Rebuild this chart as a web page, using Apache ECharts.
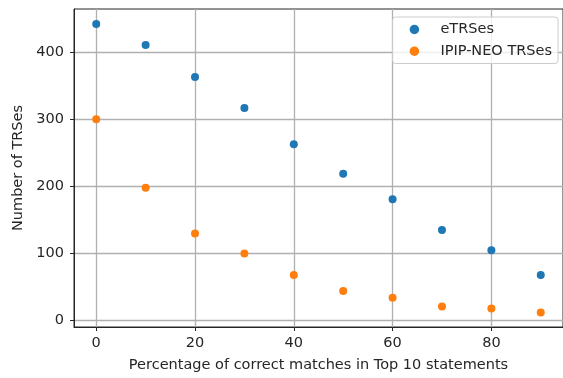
<!DOCTYPE html>
<html>
<head>
<meta charset="utf-8">
<script src="https://cdn.jsdelivr.net/npm/echarts@6/dist/echarts.min.js"></script>
<style>
  html, body { margin: 0; padding: 0; background: #fff; }
  #chart { width: 563px; height: 378px; }
</style>
</head>
<body>
<div id="chart"></div>
<script>
// Percentage of correct matches among the top 10 statements
const percentages = [0, 10, 20, 30, 40, 50, 60, 70, 80, 90];
// Number of trait-rating statements for each set
const eTRSes = [442, 411, 363, 317, 263, 219, 181, 135, 105, 68];
const ipipNeoTRSes = [300, 198, 130, 100, 68, 44, 34, 21, 18, 12];
// Tick positions
const xTicks = [0, 20, 40, 60, 80];
const yTicks = [0, 100, 200, 300, 400];

const FONT = 'DejaVu Sans';
const FS = 14.5;
const chart = echarts.init(document.getElementById('chart'), null, { renderer: 'canvas' });

function pairs(xs, ys) {
  return xs.map((x, i) => [x, ys[i]]);
}

chart.setOption({
  animation: false,
  backgroundColor: '#ffffff',
  textStyle: { fontFamily: FONT },
  grid: {
    left: 74, top: 9, width: 491, bottom: 50,
    show: true, borderColor: '#262626', borderWidth: 1, backgroundColor: 'transparent'
  },
  legend: {
    right: 5, top: 17,
    orient: 'vertical',
    icon: 'circle',
    itemWidth: 42, itemHeight: 9.5,
    itemGap: 5.7,
    padding: [4.5, 6, 4.3, 17],
    backgroundColor: 'rgba(255,255,255,0.8)',
    borderColor: '#cccccc', borderWidth: 1, borderRadius: 3,
    textStyle: { fontFamily: FONT, fontSize: FS, color: '#262626', lineHeight: 16 },
    data: ['eTRSes', 'IPIP-NEO TRSes']
  },
  xAxis: {
    type: 'value',
    min: -4.5, max: 94.5,
    name: 'Percentage of correct matches in Top 10 statements',
    nameLocation: 'middle', nameGap: 31,
    nameTextStyle: { fontFamily: FONT, fontSize: FS, color: '#262626' },
    axisLine: { show: true, onZero: false, lineStyle: { color: '#262626', width: 1 } },
    axisTick: { show: true, inside: false, length: 4, customValues: xTicks, lineStyle: { color: '#262626' } },
    axisLabel: { customValues: xTicks, margin: 9, fontFamily: FONT, fontSize: FS, color: '#262626' },
    splitLine: { show: true, lineStyle: { color: '#b0b0b0', width: 1.3 } }
  },
  yAxis: {
    type: 'value',
    min: -9.55, max: 464.5,
    name: 'Number of TRSes',
    nameLocation: 'middle', nameGap: 45,
    nameTextStyle: { fontFamily: FONT, fontSize: FS, color: '#262626' },
    axisLine: { show: true, onZero: false, lineStyle: { color: '#262626', width: 1 } },
    axisTick: { show: true, inside: false, length: 4, customValues: yTicks, lineStyle: { color: '#262626' } },
    axisLabel: { customValues: yTicks, margin: 10, fontFamily: FONT, fontSize: FS, color: '#262626' },
    splitLine: { show: true, lineStyle: { color: '#b0b0b0', width: 1.3 } }
  },
  series: [
    {
      name: 'eTRSes', type: 'scatter', symbol: 'circle', symbolSize: 8,
      itemStyle: { color: '#1f77b4', opacity: 1 },
      data: pairs(percentages, eTRSes), z: 3
    },
    {
      name: 'IPIP-NEO TRSes', type: 'scatter', symbol: 'circle', symbolSize: 8,
      itemStyle: { color: '#ff7f0e', opacity: 1 },
      data: pairs(percentages, ipipNeoTRSes), z: 4
    }
  ]
});
</script>
</body>
</html>
